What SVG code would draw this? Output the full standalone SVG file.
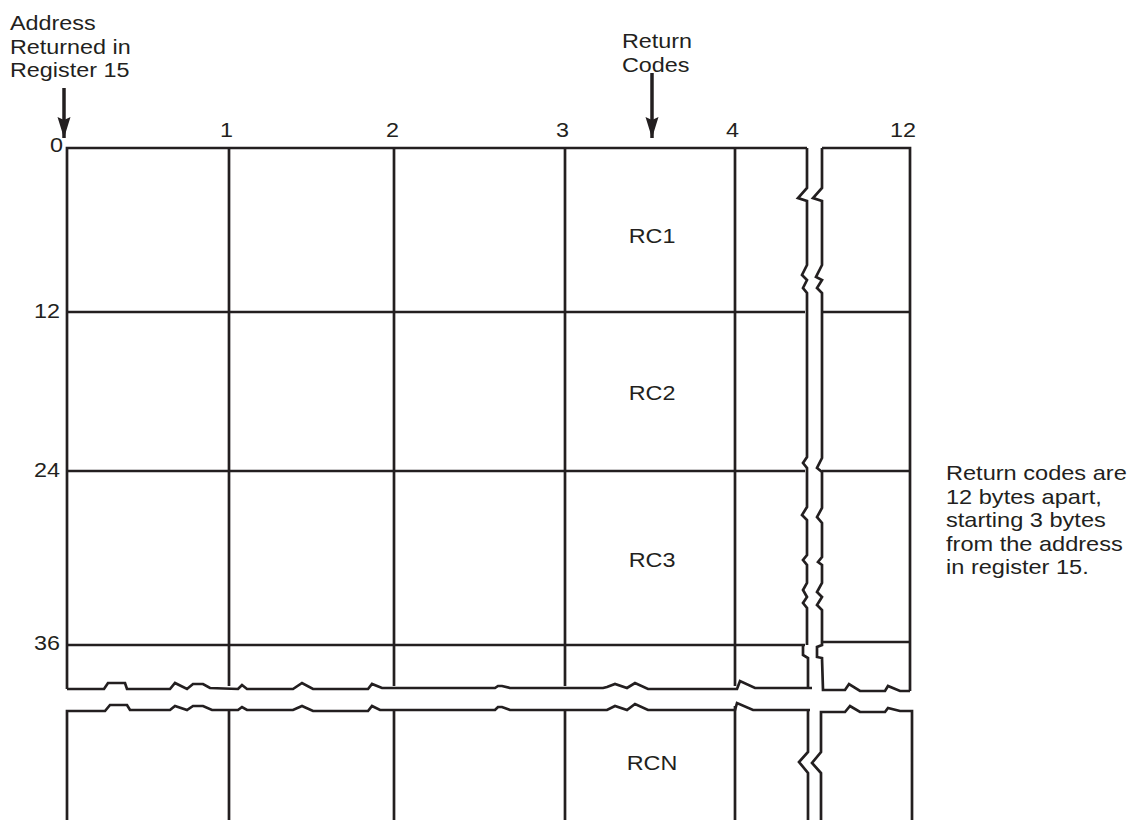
<svg xmlns="http://www.w3.org/2000/svg" width="1136" height="820" viewBox="0 0 1136 820">
<defs>
<style>
.ln{fill:none;stroke:#231f20;stroke-width:2.7;stroke-linejoin:miter;stroke-linecap:butt}
.ar{fill:none;stroke:#231f20;stroke-width:3.5}
.t{font-family:"Liberation Sans",Arial,Helvetica,sans-serif;font-size:20.5px;fill:#231f20}
.e{text-anchor:end}
.m{text-anchor:middle}
</style>
<marker id="ah" viewBox="-1 -8 23 16" refX="21" refY="0" markerWidth="23" markerHeight="16" markerUnits="userSpaceOnUse" orient="auto">
<path d="M0,-6.5 L21,0 L0,6.5 L3,0 Z" fill="#231f20"/>
</marker>
</defs>
<rect width="1136" height="820" fill="#ffffff"/>

<g id="label-address">
<text class="t" transform="translate(10,30) scale(1.14,1)">Address</text>
<text class="t" transform="translate(10,54) scale(1.14,1)">Returned in</text>
<text class="t" transform="translate(10,77) scale(1.14,1)">Register 15</text>
</g>
<g id="label-return-codes">
<text class="t" transform="translate(622,48) scale(1.14,1)">Return</text>
<text class="t" transform="translate(622,72) scale(1.14,1)">Codes</text>
</g>
<g id="label-note">
<text class="t" transform="translate(946,480) scale(1.15,1)">Return codes are</text>
<text class="t" transform="translate(946,503.5) scale(1.15,1)">12 bytes apart,</text>
<text class="t" transform="translate(946,527) scale(1.15,1)">starting 3 bytes</text>
<text class="t" transform="translate(946,550.5) scale(1.15,1)">from the address</text>
<text class="t" transform="translate(946,574) scale(1.15,1)">in register 15.</text>
</g>
<g id="column-labels">
<text class="t e" transform="translate(63,152) scale(1.14,1)">0</text>
<text class="t e" transform="translate(233,137) scale(1.14,1)">1</text>
<text class="t e" transform="translate(399,137) scale(1.14,1)">2</text>
<text class="t e" transform="translate(569,137) scale(1.14,1)">3</text>
<text class="t e" transform="translate(739,137) scale(1.14,1)">4</text>
<text class="t e" transform="translate(916,137) scale(1.14,1)">12</text>
</g>
<g id="row-labels">
<text class="t e" transform="translate(60,318) scale(1.14,1)">12</text>
<text class="t e" transform="translate(60,477) scale(1.14,1)">24</text>
<text class="t e" transform="translate(60,650) scale(1.14,1)">36</text>
</g>
<g id="cells">
<text class="t m" transform="translate(652,243) scale(1.14,1)">RC1</text>
<text class="t m" transform="translate(652,400) scale(1.14,1)">RC2</text>
<text class="t m" transform="translate(652,567) scale(1.14,1)">RC3</text>
<text class="t m" transform="translate(652,770) scale(1.14,1)">RCN</text>
</g>

<g id="connectors">
<line class="ar" x1="64" y1="88" x2="64" y2="138" marker-end="url(#ah)"/>
<line class="ar" x1="652" y1="73" x2="652" y2="138" marker-end="url(#ah)"/>
</g>

<g id="grid-upper">
<path class="ln" d="M67,689 V148 H807"/>
<path class="ln" d="M229,148 V686 M394,148 V686 M565,148 V686 M735,148 V686"/>
<path class="ln" d="M67,312 H805 M67,471 H805 M67,645 H805"/>
<path class="ln" d="M807,148 V188 L798,198 L807,201 V265 L802,275 L807,280 L803,288 L807,293 V457 L803,463 L807,468 V507 L802,515 L807,520 V555 L803,560 L807,565 V583 L803,590 L807,597 L803,603 L807,608 V645 M803,646 V655 L808,658 V689"/>
<path class="ln" d="M67,689 H104 L108,683 H125 L127,689 H170 L175,683 L187,689 L193,684 H203 L210,688 L238,689 L242,685 L247,689 H293 L302,683 L313,689 H368 L372,684 L382,688 H495 L498,686 L502,686 L510,688 H603 L607,687 L615,684 L627,688 L635,683 L648,689 H737 L740,681 L755,688 H812"/>
</g>
<g id="grid-upper-right">
<path class="ln" d="M822,148 H910 V691"/>
<path class="ln" d="M822,148 V188 L813,198 L822,201 V265 L816,277 L822,280 L817,288 L822,293 V458 L817,468 L822,472 V508 L817,517 L822,523 V557 L818,562 L822,565 V583 L817,592 L822,597 L817,605 L822,610 V645 L817,647 V657 L822,658 L823,690 H845 L849,684 L860,691 H885 L888,686 L900,691 H910"/>
<path class="ln" d="M822,312 H910 M822,471 H910 M822,642 H910"/>
</g>
<g id="grid-lower">
<path class="ln" d="M67,820 V711 H105 L110,705 H127 L130,710 H170 L175,706 L187,710 L193,706 H203 L212,710 H238 L242,707 L247,710 H293 L302,706 L313,711 H368 L372,706 L380,710 H495 L498,707 L502,707 L510,710 H603 L607,710 L615,706 L627,710 L635,704 L648,710 H735 L737,703 L753,710 H810"/>
<path class="ln" d="M229,710 V820 M394,710 V820 M565,710 V820 M735,706 V820"/>
<path class="ln" d="M808,710 V752 L799,762 L808,773 V820"/>
<path class="ln" d="M821,820 V773 L812,763 L821,752 V712 H845 L850,706 L860,712 H885 L888,708 L900,711 H912 V820"/>
</g>
</svg>
